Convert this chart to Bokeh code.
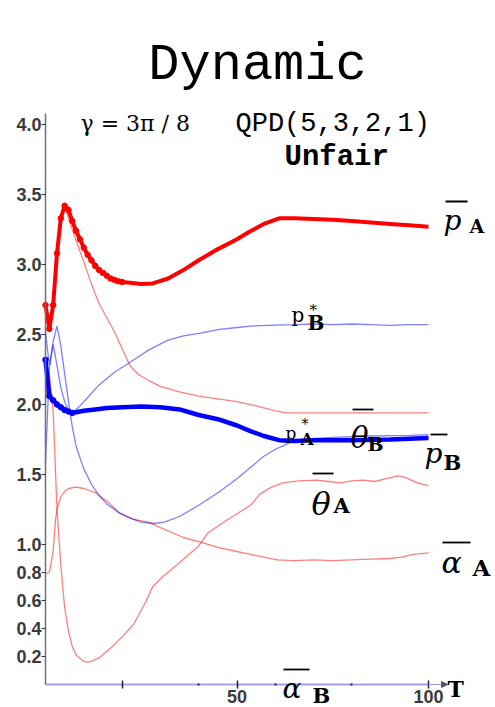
from bokeh.plotting import figure
from bokeh.models import Range1d, FixedTicker, PrintfTickFormatter, Label, Arrow, NormalHead
from bokeh.embed import file_html
from bokeh.resources import INLINE

# ---------------- data ----------------
T_pA = list(range(0, 21)) + [22, 25, 28, 32, 36, 40, 45, 50, 53, 57, 61, 65, 70, 75, 80, 85, 90, 95, 100]
pA_bar = [2.71, 2.54, 2.71, 3.08, 3.33, 3.42, 3.39, 3.31, 3.24, 3.18, 3.12, 3.07, 3.03, 2.99, 2.96,
          2.94, 2.92, 2.90, 2.89, 2.88, 2.875,
          2.87, 2.86, 2.865, 2.90, 2.96, 3.03, 3.11, 3.18, 3.23, 3.29, 3.33, 3.33, 3.325, 3.32, 3.31,
          3.30, 3.29, 3.28, 3.27]

T_pB = [0, 1, 2, 3, 4, 5, 6, 7, 8, 10, 13, 16, 20, 25, 30, 35, 40, 45, 50, 53.5, 57, 61, 65, 70, 80, 90, 100]
pB_bar = [2.32, 2.06, 2.03, 2.00, 1.98, 1.96, 1.95, 1.94, 1.945, 1.955, 1.965, 1.975, 1.98, 1.985,
          1.98, 1.965, 1.925, 1.895, 1.85, 1.81, 1.775, 1.745, 1.74, 1.745, 1.745, 1.75, 1.76]

T_thB = [0, 1, 2, 3, 4, 5, 6, 8, 10, 12, 14, 16, 18, 20, 22, 24, 27, 30, 35, 40, 45, 50, 55, 60, 63, 70, 80, 90, 100]
thB_bar = [2.71, 2.54, 2.71, 3.08, 3.33, 3.42, 3.33, 3.17, 3.02, 2.86, 2.72, 2.62, 2.52, 2.40, 2.28,
           2.22, 2.17, 2.13, 2.09, 2.06, 2.04, 2.02, 1.99, 1.955, 1.94, 1.94, 1.94, 1.94, 1.94]

T_thA = [0, 1, 2, 3, 4, 5, 6, 7, 8, 10, 11, 12, 14, 17, 20, 23, 26, 28, 31, 35, 37, 39.7, 42.3, 46, 50,
         53.5, 56, 59, 62, 66, 71, 74, 77, 80, 83, 86, 89, 92, 94, 97, 100]
thA_bar = [2.05, 2.22, 1.95, 1.25, 0.85, 0.55, 0.38, 0.27, 0.21, 0.165, 0.16, 0.165, 0.19, 0.26, 0.34,
           0.43, 0.58, 0.70, 0.78, 0.87, 0.92, 0.98, 1.08, 1.15, 1.22, 1.28, 1.36, 1.41, 1.44, 1.455,
           1.46, 1.45, 1.44, 1.455, 1.46, 1.45, 1.47, 1.49, 1.48, 1.44, 1.42]

T_aA = [0, 1, 2, 2.6, 3, 4, 5, 6, 8, 10, 13, 16, 19.6, 23, 27, 30, 36, 40, 45, 50, 53.5, 57, 60.5, 65,
        70, 75, 80, 85, 90, 93, 96, 100]
aA_bar = [0.79, 0.80, 0.95, 1.17, 1.25, 1.34, 1.38, 1.40, 1.41, 1.40, 1.37, 1.31, 1.22, 1.18, 1.16,
          1.12, 1.05, 1.02, 0.98, 0.95, 0.93, 0.91, 0.89, 0.885, 0.89, 0.885, 0.89, 0.895, 0.90, 0.91,
          0.93, 0.94]

T_aB = [0, 50, 100]
aB_bar = [0.0, 0.0, 0.0]

T_pAs = [0, 1, 2, 3, 4, 5, 6, 7, 8, 10, 12, 14, 16, 19, 22, 25, 28, 31, 35, 40, 45, 50, 53.5, 57, 60,
         64, 68, 75, 85, 95, 100]
pA_star = [1.58, 2.25, 2.45, 2.56, 2.42, 2.22, 2.02, 1.84, 1.70, 1.54, 1.43, 1.35, 1.29, 1.23, 1.19,
           1.16, 1.15, 1.16, 1.20, 1.28, 1.37, 1.47, 1.55, 1.63, 1.68, 1.73, 1.755, 1.765, 1.775, 1.78,
           1.785]

T_pBs = [0, 1, 2, 3, 4, 5, 6, 7, 9, 11, 14, 18, 22, 27, 32, 36, 40.5, 45, 50, 53.5, 58, 65, 70, 75,
         80, 85, 90, 95, 100]
pB_star = [2.52, 2.28, 2.43, 2.28, 2.12, 2.02, 1.96, 1.94, 1.99, 2.05, 2.14, 2.23, 2.30, 2.39, 2.46,
           2.49, 2.51, 2.535, 2.55, 2.56, 2.565, 2.57, 2.575, 2.57, 2.575, 2.57, 2.565, 2.57, 2.57]

y_ticks = [0.2, 0.4, 0.6, 0.8, 1.0, 1.5, 2.0, 2.5, 3.0, 3.5, 4.0]
x_ticks = [20, 50, 100]
x_minor = [40, 60, 80]
x_tick_labels = {20: "", 50: "50", 100: "100"}

# ---------------- layout helpers (pixel -> data) ----------------
OX, OY, SX, SY = 45.0, 684.0, 3.83, 140.0
W, H = 495, 707


def X(px):
    return (px - OX) / SX


def Y(py):
    return (OY - py) / SY


p = figure(width=W, height=H, x_range=Range1d(X(0), X(W)), y_range=Range1d(Y(H), Y(0)),
           output_backend="svg", toolbar_location=None, min_border=0)
p.outline_line_color = None
p.xgrid.visible = False
p.ygrid.visible = False
p.background_fill_color = "white"

# axes
ya = p.yaxis[0]
ya.fixed_location = 0
ya.bounds = (0, 4.08)
ya.ticker = FixedTicker(ticks=y_ticks)
ya.formatter = PrintfTickFormatter(format="%.1f")
ya.axis_line_color = "#707070"
ya.axis_line_width = 1.5
ya.major_tick_out = 4
ya.major_tick_in = 0
ya.minor_tick_out = 0
ya.minor_tick_in = 0
ya.major_tick_line_color = "#333333"
ya.major_label_standoff = 0
ya.major_label_text_font = "Liberation Sans"
ya.major_label_text_font_size = "18px"
ya.major_label_text_font_style = "bold"
ya.major_label_text_color = "#3a3a3a"

xa = p.xaxis[0]
xa.fixed_location = 0
xa.bounds = (0, 100)
xa.ticker = FixedTicker(ticks=x_ticks, minor_ticks=x_minor)
xa.major_label_overrides = x_tick_labels
xa.axis_line_color = "#9a9aee"
xa.axis_line_width = 1.5
xa.major_tick_in = 4
xa.major_tick_out = 4
xa.major_tick_line_color = "#222222"
xa.major_tick_line_width = 1.5
xa.minor_tick_in = 1
xa.minor_tick_out = 1
xa.minor_tick_line_color = "#222222"
xa.minor_tick_line_width = 2
xa.major_label_standoff = 1
xa.major_label_text_font = "Liberation Sans"
xa.major_label_text_font_size = "18px"
xa.major_label_text_font_style = "bold"
xa.major_label_text_color = "#3a3a3a"

p.add_layout(Arrow(end=NormalHead(size=6, fill_color="#555555", line_color="#555555"),
                   x_start=100, y_start=0, x_end=X(447), y_end=0,
                   line_color="#9a9aee", line_width=1))

# thin lines
thin_red = dict(color="#ff0000", line_alpha=0.5, line_width=1.3)
thin_blue = dict(color="#0000ff", line_alpha=0.5, line_width=1.3)
p.line(T_aB, aB_bar, color="#4444ee", line_alpha=0.5, line_width=1.3)
p.line(T_thB, thB_bar, **thin_red)
p.line(T_thA, thA_bar, **thin_red)
p.line(T_aA, aA_bar, **thin_red)
p.line(T_pAs, pA_star, **thin_blue)
p.line(T_pBs, pB_star, **thin_blue)

# thick lines with early markers
p.line(T_pA, pA_bar, color="#ff0000", line_width=4)
p.scatter(T_pA[:21], pA_bar[:21], size=5.5, color="#ff0000")
p.line(T_pB, pB_bar, color="#0000ff", line_width=4.5)
p.scatter(T_pB[:8], pB_bar[:8], size=5.5, color="#0000ff")

# ---------------- texts ----------------
def lab(px, py, text, font="DejaVu Serif", size="20px", style="normal", align="left"):
    p.add_layout(Label(x=X(px), y=Y(py), text=text, text_font=font, text_font_size=size,
                       text_font_style=style, text_align=align, text_baseline="alphabetic",
                       text_color="black"))


lab(257, 65, "Dynamic", font="Liberation Mono", size="52px", align="center")
lab(80, 123, "γ = 3π / 8", size="22px")
lab(235, 123, "QPD(5,3,2,1)", font="Liberation Mono", size="27px")
lab(284, 157, "Unfair", font="Liberation Mono", size="29px", style="bold")

# series labels: (main glyph), subscript, star
lab(443, 220, "p", size="28px", style="italic")
lab(469, 225, "A", size="19px", style="bold")
lab(291, 314, "p", size="20px")
lab(309, 309, "*", size="15px")
lab(307, 322, "B", size="20px", style="bold")
lab(285, 432, "p", size="17px")
lab(301, 423, "*", size="14px")
lab(300, 438, "A", size="17px", style="bold")
lab(350, 437, "θ", size="30px", style="italic")
lab(367, 443, "B", size="19px", style="bold")
lab(424, 453, "p", size="28px", style="italic")
lab(443, 462, "B", size="21px", style="bold")
lab(311, 503, "θ", size="32px", style="italic")
lab(333, 505, "A", size="21px", style="bold")
lab(441, 562, "α", size="30px", style="italic")
lab(472, 567, "A", size="23px", style="bold")
lab(282, 688, "α", size="28px", style="italic")
lab(312, 695, "B", size="21px", style="bold")
lab(447, 688, "T", size="22px", style="bold")

# overbars of the mean labels (pixel layout)
bars_px = [(445, 467, 201), (352, 373, 409), (430, 447, 434), (312, 333, 473), (442, 470, 542), (283, 309, 669)]
p.segment(x0=[X(a) for a, b, c in bars_px], x1=[X(b) for a, b, c in bars_px],
          y0=[Y(c) for a, b, c in bars_px], y1=[Y(c) for a, b, c in bars_px],
          line_color="black", line_width=1.8)

open("out.html", "w").write(file_html(p, INLINE))
